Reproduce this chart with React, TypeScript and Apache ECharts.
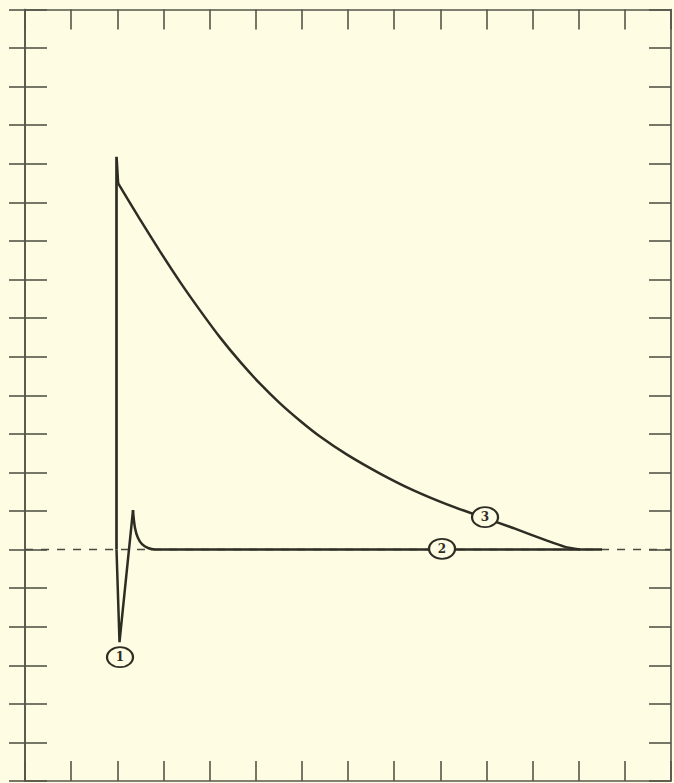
import React, { useEffect, useRef } from "react";
import * as echarts from "echarts";

// Axis ranges (no tick labels in the reference)
const xRange = [0, 14];
const yRange = [-6, 14];

// Curve 3: sharp rise then decay
const curve3Rise: [number, number][] = [
  [1.983, 0],
  [1.983, 10.18],
  [2.016, 9.5],
];
const curve3Decay: [number, number][] = [
  [2.016, 9.5],
  [2.492, 8.56],
  [2.926, 7.73],
  [3.359, 6.94],
  [3.793, 6.2],
  [4.226, 5.5],
  [4.66, 4.87],
  [5.093, 4.3],
  [5.527, 3.79],
  [5.96, 3.34],
  [6.394, 2.93],
  [6.979, 2.46],
  [7.694, 1.97],
  [8.409, 1.54],
  [9.146, 1.17],
  [9.861, 0.86],
  [10.576, 0.56],
  [11.313, 0.23],
  [11.704, 0.07],
  [12.029, 0],
];

// Curve 1: downward spike and overshoot
const curve1Spike: [number, number][] = [
  [1.983, 0],
  [2.048, -2.4],
  [2.341, 1.02],
];
// Curve 2: recovery to the baseline
const curve2Tail: [number, number][] = [
  [2.341, 1.02],
  [2.384, 0.56],
  [2.449, 0.3],
  [2.536, 0.14],
  [2.666, 0.04],
  [2.817, 0],
  [12.505, 0],
];

const baseline: [number, number][] = [
  [0, 0],
  [14, 0],
];

const labelNames = ["1", "2", "3"];
const labelX = [2.059, 9.038, 9.97];
const labelY = [-2.79, 0.02, 0.84];

const INK = "#2e2d24";
const TICK = "#55554a";
const BG = "#fefce2";

export default function App() {
  const ref = useRef<HTMLDivElement>(null);
  useEffect(() => {
    if (!ref.current) return;
    const chart = echarts.init(ref.current, undefined, { renderer: "svg" });

    const axisCommon = {
      type: "value" as const,
      interval: 1,
      axisLabel: { show: false },
      splitLine: { show: false },
      axisLine: { show: true, onZero: false, lineStyle: { color: TICK, width: 1.6 } },
    };

    const ellipsePath =
      "path://M0,10 A13,10 0 1,1 26,10 A13,10 0 1,1 0,10 Z";

    chart.setOption({
      animation: false,
      backgroundColor: BG,
      grid: { left: 25, top: 9.5, width: 646, height: 771.5 },
      xAxis: [
        {
          ...axisCommon,
          min: xRange[0],
          max: xRange[1],
          position: "bottom",
          axisTick: { show: true, inside: true, length: 20, lineStyle: { color: TICK, width: 1.6 } },
        },
        {
          ...axisCommon,
          min: xRange[0],
          max: xRange[1],
          position: "top",
          axisTick: { show: true, inside: true, length: 20, lineStyle: { color: TICK, width: 1.6 } },
        },
      ],
      yAxis: [
        {
          ...axisCommon,
          min: yRange[0],
          max: yRange[1],
          position: "left",
          axisTick: { show: true, inside: true, length: 22, lineStyle: { color: TICK, width: 1.6 } },
        },
        {
          ...axisCommon,
          min: yRange[0],
          max: yRange[1],
          position: "left",
          axisTick: { show: true, inside: false, length: 16, lineStyle: { color: TICK, width: 1.6 } },
        },
        {
          ...axisCommon,
          min: yRange[0],
          max: yRange[1],
          position: "right",
          axisTick: { show: true, inside: true, length: 22, lineStyle: { color: TICK, width: 1.6 } },
        },
      ],
      series: [
        {
          type: "line",
          data: baseline,
          symbol: "none",
          z: 1,
          lineStyle: { color: "#4a4a40", width: 1.5, type: [8, 8] },
        },
        {
          type: "line",
          data: curve3Rise,
          symbol: "none",
          z: 3,
          lineStyle: { color: INK, width: 2.7 },
        },
        {
          type: "line",
          data: curve3Decay,
          symbol: "none",
          smooth: 0.2,
          z: 3,
          lineStyle: { color: INK, width: 2.5 },
        },
        {
          type: "line",
          data: curve1Spike,
          symbol: "none",
          z: 3,
          lineStyle: { color: INK, width: 2.5 },
        },
        {
          type: "line",
          data: curve2Tail,
          symbol: "none",
          smooth: 0.4,
          z: 3,
          lineStyle: { color: INK, width: 2.5 },
        },
        {
          type: "scatter",
          z: 5,
          symbol: ellipsePath,
          symbolSize: [26, 20],
          itemStyle: { color: BG, borderColor: INK, borderWidth: 2, opacity: 1 },
          label: {
            show: true,
            position: "inside",
            formatter: "{b}",
            color: INK,
            fontFamily: "DejaVu Serif, Liberation Serif, serif",
            fontSize: 12,
            fontWeight: "bold",
          },
          data: labelNames.map((n, i) => ({ name: n, value: [labelX[i], labelY[i]] })),
        },
      ],
    });
    return () => chart.dispose();
  }, []);

  return (
    <div
      ref={ref}
      style={{ position: "fixed", left: 0, top: 0, width: 674, height: 783 }}
    />
  );
}
